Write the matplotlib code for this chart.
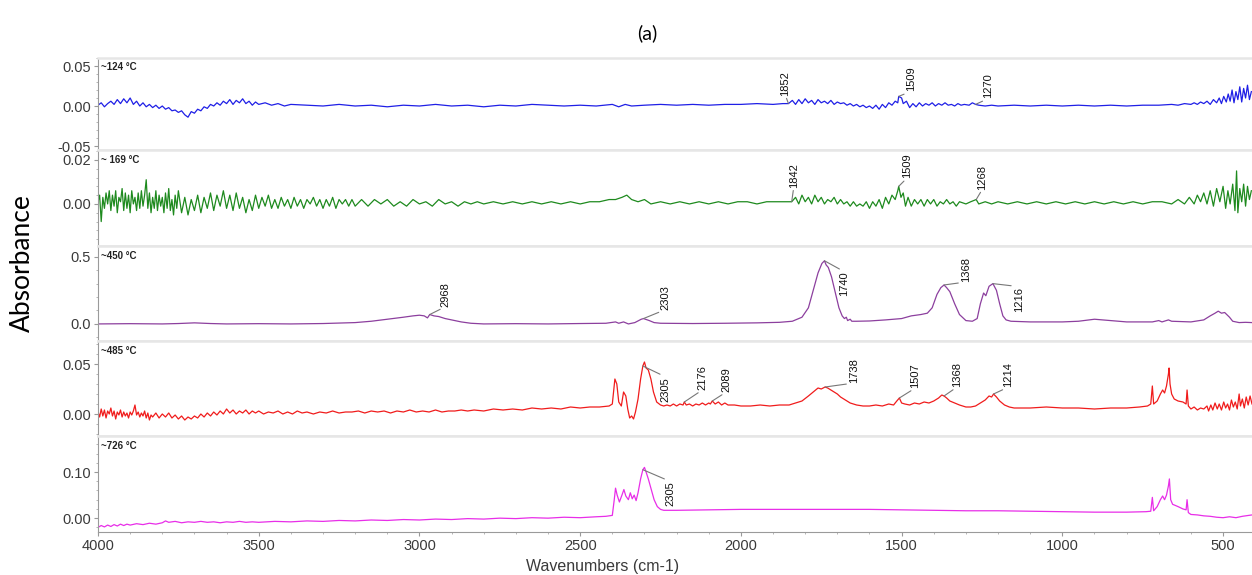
"""
Stacked FTIR spectra of evolved gases at five temperatures, panel (a).

    python3 plot.py  ->  out.png
"""

import numpy as np
import matplotlib

matplotlib.use("Agg")
import matplotlib.pyplot as plt
from matplotlib.ticker import AutoMinorLocator, FormatStrFormatter, MultipleLocator

# (wavenumber cm-1, absorbance), one list per temperature.
SPEC_124 = [
    (4000, 0.001), (3990, 0.004), (3980, -0.001), (3970, 0.003), (3960, 0.006), (3950, 0.002),
    (3940, 0.008), (3930, 0.003), (3920, 0.009), (3910, 0.004), (3900, 0.010), (3890, 0.002),
    (3880, 0.006), (3870, 0.000), (3860, 0.004), (3850, -0.001), (3840, 0.002), (3830, -0.002),
    (3820, 0.001), (3810, -0.003), (3800, 0.000), (3790, -0.004), (3780, -0.002), (3770, -0.006),
    (3760, -0.005), (3750, -0.008), (3740, -0.006), (3730, -0.011), (3720, -0.014), (3710, -0.007),
    (3700, -0.009), (3690, -0.004), (3680, -0.006), (3670, -0.001), (3660, -0.003), (3650, 0.002),
    (3640, 0.000), (3630, 0.004), (3620, 0.001), (3610, 0.006), (3600, 0.003), (3590, 0.008),
    (3580, 0.002), (3570, 0.007), (3560, 0.004), (3550, 0.009), (3540, 0.003), (3530, 0.006),
    (3520, 0.001), (3510, 0.005), (3500, 0.002), (3480, 0.004), (3460, 0.001), (3440, 0.003),
    (3420, 0.000), (3400, 0.002), (3350, 0.001), (3300, 0.000), (3250, 0.002), (3200, 0.000),
    (3150, 0.001), (3100, -0.001), (3050, 0.001), (3000, 0.000), (2950, 0.002), (2900, 0.000),
    (2850, 0.001), (2800, -0.001), (2750, 0.001), (2700, 0.000), (2650, 0.002), (2600, 0.001),
    (2550, 0.000), (2500, 0.001), (2450, 0.000), (2400, 0.002), (2380, -0.001), (2360, 0.002),
    (2340, 0.000), (2300, 0.001), (2250, 0.002), (2200, 0.001), (2150, 0.002), (2100, 0.001),
    (2050, 0.002), (2000, 0.002), (1950, 0.003), (1900, 0.002), (1870, 0.003), (1852, 0.003),
    (1840, 0.007), (1830, 0.002), (1820, 0.008), (1810, 0.003), (1800, 0.009), (1790, 0.004),
    (1780, 0.007), (1770, 0.002), (1760, 0.008), (1750, 0.004), (1740, 0.006), (1730, 0.003),
    (1720, 0.007), (1710, 0.002), (1700, 0.005), (1690, 0.003), (1680, 0.004), (1670, 0.001),
    (1660, 0.003), (1650, 0.000), (1640, 0.002), (1630, -0.001), (1620, 0.001), (1610, -0.002),
    (1600, 0.000), (1590, -0.003), (1580, 0.001), (1570, -0.004), (1560, 0.002), (1550, -0.002),
    (1540, 0.004), (1530, 0.001), (1520, 0.006), (1512, 0.004), (1509, 0.012), (1500, 0.010),
    (1495, 0.003), (1485, 0.006), (1475, -0.002), (1465, 0.003), (1455, -0.001), (1445, 0.004),
    (1435, 0.000), (1425, 0.003), (1415, 0.001), (1405, 0.004), (1395, 0.000), (1385, 0.003),
    (1375, 0.001), (1365, 0.004), (1355, 0.001), (1345, 0.002), (1335, 0.000), (1325, 0.003),
    (1315, 0.001), (1305, 0.002), (1290, 0.001), (1280, 0.004), (1270, 0.002), (1260, 0.001),
    (1240, 0.000), (1220, 0.001), (1200, 0.000), (1150, 0.001), (1100, 0.000), (1050, 0.001),
    (1000, 0.000), (950, 0.001), (900, 0.000), (850, 0.001), (800, 0.000), (750, 0.001),
    (700, 0.001), (660, 0.002), (640, 0.001), (620, 0.003), (600, 0.002), (590, 0.004),
    (580, 0.002), (570, 0.005), (560, 0.003), (550, 0.006), (540, 0.002), (530, 0.008),
    (520, 0.004), (512, 0.010), (505, 0.003), (498, 0.012), (490, 0.005), (484, 0.015),
    (478, 0.006), (472, 0.020), (466, 0.004), (460, 0.018), (454, 0.008), (448, 0.024),
    (442, 0.005), (436, 0.022), (430, 0.010), (424, 0.026), (418, 0.008), (412, 0.018),
]

SPEC_169 = [
    (4000, 0.001), (3995, 0.004), (3990, -0.008), (3985, 0.003), (3980, -0.002), (3975, 0.005),
    (3970, 0.000), (3965, 0.006), (3960, -0.003), (3955, 0.004), (3950, -0.001), (3945, 0.006),
    (3940, -0.004), (3935, 0.003), (3930, 0.001), (3925, 0.007), (3920, -0.003), (3915, 0.005),
    (3910, -0.002), (3905, 0.004), (3900, -0.004), (3895, 0.006), (3890, 0.000), (3885, 0.003),
    (3880, -0.003), (3875, 0.005), (3870, -0.002), (3865, 0.006), (3860, -0.001), (3855, 0.004),
    (3850, 0.011), (3845, -0.002), (3840, 0.005), (3835, -0.004), (3830, 0.003), (3825, -0.002),
    (3820, 0.006), (3815, -0.003), (3810, 0.004), (3805, -0.001), (3800, 0.003), (3795, -0.004),
    (3790, 0.005), (3785, -0.002), (3780, 0.007), (3775, -0.003), (3770, 0.002), (3765, -0.005),
    (3760, 0.004), (3755, -0.002), (3750, 0.006), (3740, -0.004), (3730, 0.003), (3720, -0.005),
    (3710, 0.002), (3700, -0.003), (3690, 0.004), (3680, -0.004), (3670, 0.003), (3660, -0.002),
    (3650, 0.005), (3640, -0.003), (3630, 0.004), (3620, -0.001), (3610, 0.006), (3600, -0.002),
    (3590, 0.004), (3580, -0.003), (3570, 0.005), (3560, -0.002), (3550, 0.003), (3540, -0.004),
    (3530, 0.002), (3520, -0.003), (3510, 0.004), (3500, -0.002), (3490, 0.003), (3480, -0.001),
    (3470, 0.004), (3460, -0.002), (3450, 0.002), (3440, -0.002), (3430, 0.003), (3420, -0.001),
    (3410, 0.002), (3400, -0.002), (3390, 0.003), (3380, -0.001), (3370, 0.002), (3360, -0.002),
    (3350, 0.002), (3340, 0.000), (3330, 0.003), (3320, -0.001), (3310, 0.002), (3300, -0.002),
    (3290, 0.002), (3280, -0.001), (3270, 0.003), (3260, -0.002), (3250, 0.002), (3240, 0.000),
    (3230, 0.002), (3220, -0.001), (3210, 0.002), (3200, -0.001), (3180, 0.002), (3160, -0.001),
    (3140, 0.002), (3120, 0.000), (3100, 0.002), (3080, -0.001), (3060, 0.001), (3040, -0.001),
    (3020, 0.002), (3000, 0.000), (2980, 0.001), (2960, -0.001), (2940, 0.002), (2920, 0.000),
    (2900, 0.001), (2880, -0.001), (2860, 0.001), (2840, 0.000), (2820, 0.001), (2800, 0.000),
    (2770, 0.001), (2740, 0.000), (2710, 0.001), (2680, 0.000), (2650, 0.001), (2620, 0.000),
    (2590, 0.001), (2560, 0.000), (2530, 0.001), (2500, 0.000), (2470, 0.001), (2440, 0.001),
    (2410, 0.002), (2390, 0.002), (2370, 0.003), (2355, 0.004), (2340, 0.002), (2320, 0.001),
    (2300, 0.002), (2280, 0.000), (2250, 0.001), (2220, 0.000), (2190, 0.001), (2160, 0.000),
    (2130, 0.001), (2100, 0.000), (2070, 0.001), (2040, 0.000), (2010, 0.001), (1980, 0.001),
    (1950, 0.000), (1920, 0.001), (1890, 0.001), (1860, 0.001), (1842, 0.001), (1830, 0.003),
    (1820, 0.000), (1810, 0.004), (1800, 0.001), (1790, 0.003), (1780, 0.000), (1770, 0.004),
    (1760, 0.001), (1750, 0.003), (1740, 0.000), (1730, 0.002), (1720, 0.001), (1710, 0.003),
    (1700, 0.000), (1690, 0.002), (1680, 0.000), (1670, 0.001), (1660, -0.001), (1650, 0.001),
    (1640, -0.001), (1630, 0.000), (1620, -0.001), (1610, 0.001), (1600, -0.002), (1590, 0.001),
    (1580, -0.001), (1570, 0.002), (1560, -0.002), (1550, 0.003), (1540, 0.000), (1530, 0.004),
    (1520, 0.002), (1512, 0.006), (1509, 0.008), (1502, 0.003), (1495, 0.005), (1488, -0.001),
    (1480, 0.003), (1470, -0.001), (1460, 0.002), (1450, 0.000), (1440, 0.002), (1430, -0.001),
    (1420, 0.002), (1410, 0.000), (1400, 0.002), (1390, -0.001), (1380, 0.001), (1370, 0.000),
    (1360, 0.002), (1350, 0.000), (1340, 0.001), (1330, -0.001), (1320, 0.001), (1300, 0.000),
    (1285, 0.001), (1268, 0.002), (1260, 0.000), (1240, 0.001), (1220, 0.000), (1200, 0.001),
    (1170, 0.000), (1140, 0.001), (1110, 0.000), (1080, 0.001), (1050, 0.000), (1020, 0.001),
    (990, 0.000), (960, 0.001), (930, 0.000), (900, 0.001), (870, 0.000), (840, 0.001),
    (810, 0.000), (780, 0.001), (750, 0.000), (720, 0.001), (690, 0.001), (660, 0.000),
    (640, 0.002), (620, 0.000), (605, 0.003), (590, 0.000), (580, 0.004), (570, 0.001),
    (560, 0.005), (550, 0.000), (540, 0.006), (530, -0.001), (520, 0.007), (510, 0.001),
    (500, 0.008), (492, -0.002), (485, 0.006), (478, 0.000), (470, 0.009), (463, -0.003),
    (458, 0.015), (454, -0.004), (448, 0.007), (442, 0.001), (436, 0.009), (430, -0.001),
    (424, 0.008), (418, 0.002), (412, 0.006),
]

SPEC_450 = [
    (4000, 0.000), (3900, 0.002), (3800, 0.000), (3750, 0.003), (3700, 0.008), (3650, 0.003),
    (3600, 0.000), (3500, 0.002), (3400, 0.000), (3300, 0.003), (3200, 0.010), (3150, 0.020),
    (3100, 0.035), (3050, 0.050), (3020, 0.060), (3000, 0.065), (2985, 0.060), (2975, 0.045),
    (2968, 0.070), (2955, 0.060), (2940, 0.055), (2920, 0.040), (2900, 0.030), (2870, 0.015),
    (2840, 0.005), (2800, 0.000), (2700, 0.002), (2600, 0.000), (2500, 0.003), (2420, 0.005),
    (2390, 0.015), (2380, 0.005), (2365, 0.015), (2350, 0.000), (2330, 0.010), (2310, 0.035),
    (2303, 0.040), (2285, 0.025), (2270, 0.010), (2250, 0.005), (2150, 0.003), (2050, 0.005),
    (1950, 0.008), (1880, 0.012), (1840, 0.020), (1810, 0.050), (1790, 0.120), (1775, 0.250),
    (1760, 0.380), (1748, 0.450), (1740, 0.470), (1735, 0.440), (1728, 0.420), (1718, 0.350),
    (1705, 0.220), (1695, 0.120), (1685, 0.060), (1678, 0.040), (1672, 0.050), (1668, 0.025),
    (1660, 0.035), (1655, 0.020), (1640, 0.020), (1600, 0.022), (1550, 0.030), (1500, 0.040),
    (1470, 0.060), (1440, 0.070), (1420, 0.080), (1405, 0.120), (1390, 0.220), (1378, 0.270),
    (1368, 0.290), (1360, 0.270), (1350, 0.240), (1335, 0.150), (1320, 0.070), (1300, 0.025),
    (1280, 0.020), (1265, 0.040), (1255, 0.150), (1245, 0.230), (1238, 0.210), (1228, 0.280),
    (1216, 0.300), (1205, 0.250), (1195, 0.150), (1185, 0.060), (1175, 0.030), (1160, 0.020),
    (1100, 0.015), (1000, 0.015), (950, 0.020), (900, 0.035), (850, 0.025), (800, 0.015),
    (720, 0.015), (700, 0.025), (690, 0.015), (670, 0.030), (660, 0.020), (600, 0.015),
    (560, 0.030), (540, 0.060), (525, 0.080), (515, 0.095), (505, 0.080), (495, 0.085),
    (480, 0.050), (470, 0.020), (450, 0.010), (430, 0.012), (410, 0.010),
]

SPEC_485 = [
    (4000, 0.002), (3995, -0.003), (3990, 0.005), (3985, -0.002), (3980, 0.004), (3975, -0.004),
    (3970, 0.003), (3965, 0.000), (3960, 0.006), (3955, -0.002), (3950, 0.003), (3945, -0.005),
    (3940, 0.002), (3935, -0.001), (3930, 0.004), (3925, -0.003), (3920, 0.002), (3915, -0.002),
    (3910, 0.001), (3905, -0.004), (3900, 0.002), (3895, -0.001), (3890, 0.003), (3885, 0.009),
    (3880, -0.001), (3875, 0.002), (3870, -0.003), (3865, 0.001), (3860, -0.002), (3855, 0.003),
    (3850, -0.004), (3845, 0.001), (3840, -0.006), (3835, -0.001), (3830, -0.003), (3820, 0.001),
    (3810, -0.004), (3800, 0.000), (3790, -0.003), (3780, 0.001), (3770, -0.004), (3760, -0.001),
    (3750, -0.005), (3740, -0.002), (3730, -0.006), (3720, -0.003), (3710, -0.005), (3700, -0.002),
    (3690, -0.004), (3680, 0.000), (3670, -0.003), (3660, 0.001), (3650, -0.002), (3640, 0.002),
    (3630, -0.001), (3620, 0.003), (3610, 0.000), (3600, 0.005), (3590, 0.001), (3580, 0.004),
    (3570, 0.000), (3560, 0.003), (3550, 0.001), (3540, 0.004), (3530, 0.000), (3520, 0.003),
    (3510, 0.001), (3500, 0.003), (3485, 0.000), (3470, 0.002), (3455, 0.001), (3440, 0.003),
    (3425, 0.000), (3410, 0.002), (3395, 0.000), (3380, 0.003), (3365, 0.001), (3350, 0.002),
    (3330, 0.000), (3310, 0.002), (3290, 0.001), (3270, 0.003), (3250, 0.001), (3230, 0.002),
    (3210, 0.002), (3190, 0.003), (3170, 0.001), (3150, 0.003), (3130, 0.002), (3110, 0.003),
    (3090, 0.001), (3070, 0.003), (3050, 0.002), (3030, 0.004), (3010, 0.002), (2990, 0.003),
    (2970, 0.002), (2950, 0.004), (2930, 0.002), (2910, 0.003), (2890, 0.003), (2870, 0.004),
    (2850, 0.003), (2830, 0.004), (2800, 0.003), (2770, 0.005), (2740, 0.004), (2710, 0.005),
    (2680, 0.004), (2650, 0.006), (2620, 0.005), (2590, 0.006), (2560, 0.005), (2530, 0.007),
    (2500, 0.006), (2470, 0.007), (2440, 0.007), (2410, 0.008), (2400, 0.010), (2392, 0.035),
    (2386, 0.030), (2380, 0.012), (2372, 0.008), (2365, 0.022), (2358, 0.018), (2352, 0.005),
    (2346, -0.004), (2340, -0.002), (2334, -0.005), (2328, 0.002), (2320, 0.015), (2312, 0.035),
    (2305, 0.048), (2300, 0.052), (2295, 0.046), (2288, 0.044), (2280, 0.035), (2272, 0.022),
    (2262, 0.012), (2250, 0.009), (2240, 0.008), (2230, 0.009), (2220, 0.008), (2210, 0.010),
    (2200, 0.008), (2190, 0.010), (2180, 0.009), (2176, 0.012), (2170, 0.009), (2160, 0.010),
    (2150, 0.008), (2140, 0.010), (2130, 0.009), (2120, 0.011), (2110, 0.009), (2100, 0.011),
    (2095, 0.010), (2089, 0.013), (2080, 0.010), (2070, 0.012), (2060, 0.009), (2050, 0.011),
    (2040, 0.009), (2020, 0.009), (2000, 0.008), (1970, 0.008), (1940, 0.009), (1910, 0.008),
    (1880, 0.009), (1850, 0.009), (1830, 0.011), (1810, 0.013), (1790, 0.018), (1775, 0.022),
    (1760, 0.026), (1750, 0.025), (1738, 0.027), (1730, 0.026), (1720, 0.024), (1710, 0.022),
    (1700, 0.020), (1690, 0.017), (1675, 0.014), (1660, 0.011), (1640, 0.009), (1620, 0.008),
    (1600, 0.008), (1580, 0.009), (1560, 0.008), (1540, 0.010), (1525, 0.009), (1515, 0.013),
    (1507, 0.016), (1500, 0.011), (1490, 0.010), (1475, 0.009), (1460, 0.011), (1445, 0.010),
    (1430, 0.012), (1415, 0.011), (1400, 0.013), (1385, 0.016), (1375, 0.019), (1368, 0.018),
    (1360, 0.016), (1350, 0.013), (1335, 0.011), (1320, 0.009), (1300, 0.007), (1285, 0.007),
    (1270, 0.008), (1255, 0.011), (1240, 0.014), (1228, 0.018), (1220, 0.017), (1214, 0.020),
    (1205, 0.017), (1195, 0.013), (1180, 0.009), (1165, 0.007), (1150, 0.006), (1100, 0.006),
    (1050, 0.007), (1000, 0.006), (950, 0.006), (900, 0.005), (850, 0.006), (800, 0.006),
    (760, 0.007), (735, 0.008), (725, 0.010), (720, 0.028), (716, 0.010), (705, 0.013),
    (695, 0.020), (688, 0.024), (682, 0.021), (676, 0.028), (670, 0.040), (668, 0.046),
    (665, 0.030), (660, 0.020), (652, 0.015), (640, 0.013), (625, 0.012), (615, 0.010),
    (612, 0.024), (608, 0.008), (600, 0.005), (590, 0.007), (580, 0.004), (570, 0.006),
    (560, 0.005), (550, 0.008), (545, 0.003), (538, 0.009), (532, 0.004), (525, 0.011),
    (518, 0.005), (512, 0.010), (505, 0.004), (498, 0.012), (492, 0.006), (486, 0.010),
    (480, 0.004), (474, 0.014), (468, 0.007), (462, 0.012), (456, 0.005), (450, 0.020),
    (446, 0.008), (440, 0.015), (434, 0.006), (428, 0.017), (422, 0.009), (416, 0.018),
    (410, 0.010),
]

SPEC_726 = [
    (4000, -0.020), (3990, -0.016), (3980, -0.019), (3970, -0.015), (3960, -0.018), (3950, -0.014),
    (3940, -0.017), (3930, -0.013), (3920, -0.016), (3910, -0.013), (3900, -0.015), (3880, -0.012),
    (3860, -0.014), (3840, -0.011), (3820, -0.013), (3800, -0.010), (3790, -0.006), (3780, -0.009),
    (3760, -0.007), (3740, -0.010), (3720, -0.008), (3700, -0.009), (3680, -0.007), (3660, -0.009),
    (3640, -0.008), (3620, -0.010), (3600, -0.008), (3580, -0.009), (3560, -0.007), (3540, -0.009),
    (3520, -0.008), (3500, -0.009), (3450, -0.007), (3400, -0.008), (3350, -0.006), (3300, -0.007),
    (3250, -0.005), (3200, -0.006), (3150, -0.004), (3100, -0.005), (3050, -0.003), (3000, -0.004),
    (2950, -0.002), (2900, -0.003), (2850, -0.001), (2800, -0.002), (2750, 0.000), (2700, -0.001),
    (2650, 0.001), (2600, 0.000), (2550, 0.002), (2500, 0.001), (2450, 0.003), (2420, 0.004),
    (2400, 0.006), (2394, 0.040), (2390, 0.065), (2385, 0.050), (2378, 0.035), (2370, 0.050),
    (2364, 0.062), (2358, 0.048), (2350, 0.040), (2344, 0.055), (2338, 0.042), (2332, 0.050),
    (2326, 0.038), (2320, 0.055), (2312, 0.085), (2305, 0.105), (2300, 0.110), (2295, 0.100),
    (2288, 0.085), (2280, 0.065), (2270, 0.040), (2260, 0.025), (2250, 0.019), (2240, 0.017),
    (2200, 0.017), (2100, 0.018), (2000, 0.019), (1900, 0.019), (1800, 0.019), (1700, 0.019),
    (1600, 0.019), (1500, 0.018), (1400, 0.017), (1300, 0.016), (1200, 0.016), (1100, 0.015),
    (1000, 0.014), (900, 0.013), (800, 0.013), (740, 0.014), (725, 0.015), (720, 0.045),
    (716, 0.016), (705, 0.025), (695, 0.040), (688, 0.048), (682, 0.040), (676, 0.050),
    (670, 0.070), (667, 0.085), (663, 0.040), (657, 0.030), (650, 0.028), (640, 0.025),
    (625, 0.020), (615, 0.018), (612, 0.040), (608, 0.012), (600, 0.008), (580, 0.007),
    (560, 0.005), (540, 0.004), (520, 0.002), (500, 0.001), (480, 0.003), (460, 0.001),
    (440, 0.004), (420, 0.006), (410, 0.007),
]

SPECTRA = [SPEC_124, SPEC_169, SPEC_450, SPEC_485, SPEC_726]
TEMPS = ["~124 °C", "~ 169 °C", "~450 °C", "~485 °C", "~726 °C"]
COLORS = ["#1f1fe6", "#1e8a1e", "#8c3f9e", "#f01c1c", "#e82ee8"]

# labelled peaks per panel (cm-1)
PEAKS = [
    [1852, 1509, 1270],
    [1842, 1509, 1268],
    [2968, 2303, 1740, 1368, 1216],
    [2305, 2176, 2089, 1738, 1507, 1368, 1214],
    [2305],
]

# y range, ticks and tick format for each panel
YLIMS = [(-0.055, 0.06), (-0.0191, 0.0245), (-0.127, 0.58), (-0.022, 0.073), (-0.030, 0.178)]
YTICKS = [[-0.05, 0.0, 0.05], [0.0, 0.02], [0.0, 0.5], [0.0, 0.05], [0.0, 0.10]]
YFMT = ["%.2f", "%.2f", "%.1f", "%.2f", "%.2f"]

# label offset from the peak, in pixels (dx right, dy up); dy < 0 puts the text below
LABEL_OFFSETS = {
    (0, 1852): (-3, 8), (0, 1509): (12, 5), (0, 1270): (13, 6),
    (1, 1842): (2, 14), (1, 1509): (8, 8), (1, 1268): (6, 10),
    (2, 2968): (16, 8), (2, 2303): (22, 9), (2, 1740): (20, -11),
    (2, 1368): (22, 3), (2, 1216): (26, -3),
    (3, 2305): (23, -11), (3, 2176): (18, 12), (3, 2089): (14, 9),
    (3, 1738): (29, 4), (3, 1507): (16, 10), (3, 1368): (13, 9), (3, 1214): (15, 7),
    (4, 2305): (28, -12),
}

W, H = 1252, 575
PANEL_EDGES = [58, 150, 246, 341, 436, 532]  # pixel rows, top to bottom
LEFT = 98
PX2PT = 0.72

plt.rcParams.update(
    {
        "font.family": ["Liberation Sans", "DejaVu Sans"],
        "axes.unicode_minus": False,
    }
)

fig = plt.figure(figsize=(W / 100, H / 100), dpi=100)
axes = []
for i in range(5):
    top, bot = PANEL_EDGES[i], PANEL_EDGES[i + 1]
    ax = fig.add_axes([LEFT / W, 1 - bot / H, 1 - LEFT / W, (bot - top) / H])
    axes.append(ax)

    pts = sorted(SPECTRA[i])
    wn = np.array([p[0] for p in pts], dtype=float)
    ab = np.array([p[1] for p in pts], dtype=float)
    ax.plot(wn, ab, color=COLORS[i], lw=0.9)

    ax.set_xlim(4000, 410)
    ax.set_ylim(*YLIMS[i])
    ax.set_yticks(YTICKS[i])
    ax.yaxis.set_major_formatter(FormatStrFormatter(YFMT[i]))
    ax.yaxis.set_minor_locator(AutoMinorLocator(5))
    ax.xaxis.set_major_locator(MultipleLocator(500))
    ax.xaxis.set_minor_locator(MultipleLocator(100))
    ax.tick_params(axis="y", which="major", length=3, width=0.8, color="#999999",
                   labelsize=10.5, labelcolor="#3a3a3a", pad=2)
    ax.tick_params(axis="y", which="minor", length=1.5, width=0.6, color="#aaaaaa")
    ax.tick_params(axis="x", which="major", length=3, width=0.8, color="#999999",
                   labelsize=10.5, labelcolor="#3a3a3a", pad=2)
    ax.tick_params(axis="x", which="minor", length=1.5, width=0.6, color="#aaaaaa")

    ax.spines["right"].set_visible(False)
    ax.spines["left"].set_color("#9a9a9a")
    ax.spines["left"].set_linewidth(0.8)
    ax.spines["top"].set_color("#e6e6e6")
    ax.spines["top"].set_linewidth(1.8)
    if i < 4:
        ax.spines["bottom"].set_color("#e6e6e6")
        ax.spines["bottom"].set_linewidth(1.8)
        ax.tick_params(axis="x", which="both", bottom=False, labelbottom=False)
    else:
        ax.spines["bottom"].set_color("#9a9a9a")
        ax.spines["bottom"].set_linewidth(0.8)

    ax.text(0.003, 0.9, TEMPS[i], transform=ax.transAxes, ha="left", va="center",
            fontsize=7, fontweight="bold", color="#222222")

    for pk in PEAKS[i]:
        y = np.interp(pk, wn, ab)
        dx, dy = LABEL_OFFSETS[(i, pk)]
        va = "bottom" if dy >= 0 else "top"
        ax.annotate(
            str(pk),
            xy=(pk, y),
            xytext=(dx * PX2PT, dy * PX2PT),
            textcoords="offset points",
            rotation=90,
            ha="center",
            va=va,
            fontsize=8,
            color="#111111",
            arrowprops=dict(
                arrowstyle="-",
                color="#777777",
                lw=0.8,
                shrinkA=0,
                shrinkB=0,
                relpos=(0.5, 0.0 if va == "bottom" else 1.0),
            ),
        )

fig.text(647 / W, 1 - 33 / H, "(a)", ha="center", va="center", fontsize=14,
         family=["Lato", "DejaVu Sans"])
fig.text(22 / W, 1 - 263 / H, "Absorbance", ha="center", va="center", rotation=90,
         fontsize=19, family=["Lato", "DejaVu Sans"])
fig.text(603 / W, 1 - 566 / H, "Wavenumbers (cm-1)", ha="center", va="center",
         fontsize=11.5, color="#3a3a3a")

fig.savefig("out.png", dpi=100)
